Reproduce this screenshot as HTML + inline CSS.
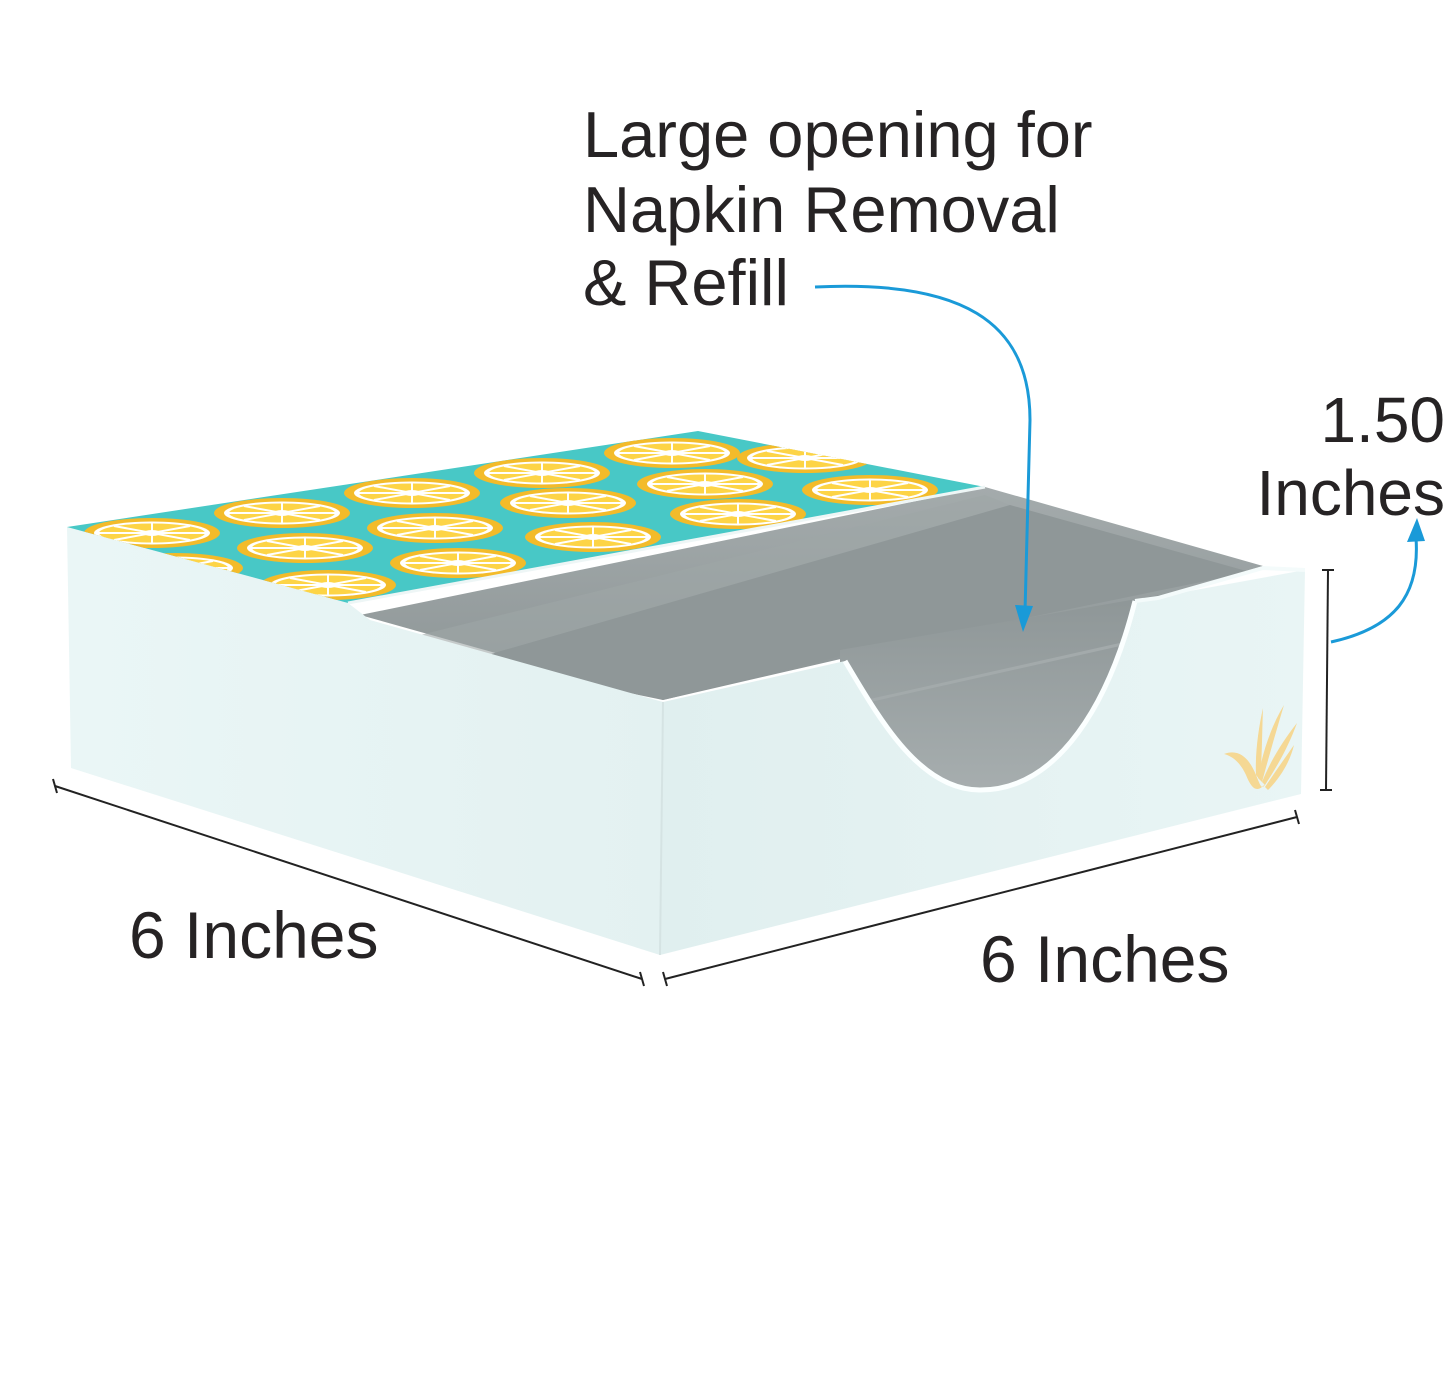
<!DOCTYPE html>
<html><head><meta charset="utf-8"><style>
html,body{margin:0;padding:0;background:#fff;}
svg{display:block}
text{font-family:"Liberation Sans",Arial,sans-serif;fill:#262324}
</style></head><body>
<svg width="1445" height="1377" viewBox="0 0 1445 1377" xmlns="http://www.w3.org/2000/svg">
<defs>
<clipPath id="lid"><polygon points="67,527 698,431 985,487 348,603"/></clipPath>
<g id="lemon">
<ellipse rx="68" ry="15" fill="#f3bb2a"/>
<ellipse rx="58" ry="11.5" fill="#fff"/>
<ellipse rx="53" ry="9.5" fill="#fdd446"/>
<g stroke="#fff" stroke-width="2">
<line x1="-53" y1="0" x2="53" y2="0"/><line x1="-38" y1="-7" x2="38" y2="7"/><line x1="-38" y1="7" x2="38" y2="-7"/><line x1="0" y1="-9.5" x2="0" y2="9.5"/>
</g>
<ellipse rx="9" ry="3" fill="#fff"/>
</g>
<linearGradient id="lf" x1="0" y1="0" x2="1" y2="0"><stop offset="0" stop-color="#eaf6f6"/><stop offset="1" stop-color="#e3f1f1"/></linearGradient>
<linearGradient id="rf" x1="0" y1="0" x2="1" y2="0"><stop offset="0" stop-color="#e0efef"/><stop offset="1" stop-color="#e9f5f5"/></linearGradient>
<linearGradient id="gi" x1="0" y1="0" x2="0" y2="1"><stop offset="0" stop-color="#a4abac"/><stop offset="1" stop-color="#8c9495"/></linearGradient>
<linearGradient id="gc" x1="0" y1="0" x2="0" y2="1"><stop offset="0" stop-color="#8e9697"/><stop offset="1" stop-color="#a9b0b1"/></linearGradient>
</defs>

<!-- text -->
<text x="583" y="157" font-size="65">Large opening for</text>
<text x="583" y="232" font-size="65">Napkin Removal</text>
<text x="583" y="305" font-size="65">&amp; Refill</text>
<text x="1445" y="442" font-size="64" text-anchor="end">1.50</text>
<text x="1445" y="515" font-size="64" text-anchor="end">Inches</text>
<text x="129" y="958" font-size="66">6 Inches</text>
<text x="980" y="982" font-size="66">6 Inches</text>

<!-- interior -->
<polygon points="360,615 985,487 1263,566 1150,600 845,658 663,700" fill="url(#gi)"/>
<polygon points="400,640 985,495 1010,505 470,660" fill="#9fa6a7" opacity="0.6"/>
<polygon points="470,660 1010,505 1250,572 845,655 663,700" fill="#8f9798"/>
<polygon points="840,650 1160,595 1160,810 840,810" fill="url(#gc)"/>
<line x1="850" y1="705" x2="1140" y2="640" stroke="#a3aaab" stroke-width="3"/>
<!-- left face -->
<polygon points="67,527 348,603 370,620 663,702 660,955 71,768" fill="url(#lf)"/>
<!-- right face with cutout -->
<path d="M663,702 L845,661 C880,720 920,790 980,790 C1060,790 1110,700 1135,601 L1305,570 L1301,794 L660,955 Z" fill="url(#rf)"/>
<path d="M845,661 C880,720 920,790 980,790 C1060,790 1110,700 1135,601" fill="none" stroke="#fbffff" stroke-width="5"/>
<polyline points="1135,601 1158,598 1263,568 1305,570" fill="none" stroke="#f4fbfb" stroke-width="4"/>
<line x1="663" y1="702" x2="660" y2="955" stroke="#d5e3e3" stroke-width="2"/>
<!-- lid -->
<polygon points="67,527 698,431 985,487 348,603" fill="#48c8c6"/>
<g clip-path="url(#lid)">
<use href="#lemon" x="152" y="533"/><use href="#lemon" x="282" y="513"/><use href="#lemon" x="412" y="493"/><use href="#lemon" x="542" y="473"/><use href="#lemon" x="672" y="453"/><use href="#lemon" x="805" y="458"/>
<use href="#lemon" x="175" y="568"/><use href="#lemon" x="305" y="548"/><use href="#lemon" x="435" y="528"/><use href="#lemon" x="568" y="503"/><use href="#lemon" x="705" y="484"/><use href="#lemon" x="870" y="490"/>
<use href="#lemon" x="198" y="603"/><use href="#lemon" x="328" y="585"/><use href="#lemon" x="458" y="563"/><use href="#lemon" x="593" y="537"/><use href="#lemon" x="738" y="514"/>
</g>
<line x1="348" y1="603" x2="985" y2="487" stroke="#eef6f6" stroke-width="3"/>

<!-- logo -->
<g fill="#f7d58a" opacity="0.9">
<path d="M1224,754 C1240,748 1250,760 1256,775 C1262,790 1262,790 1268,780 C1258,795 1252,790 1246,775 C1240,762 1232,756 1224,754Z"/>
<path d="M1256,775 C1255,755 1258,730 1263,708 C1262,735 1262,760 1260,780Z"/>
<path d="M1258,778 C1262,755 1270,728 1284,705 C1275,735 1268,760 1262,782Z"/>
<path d="M1262,782 C1270,762 1282,742 1297,723 C1288,748 1276,768 1265,785Z"/>
<path d="M1265,787 C1275,772 1285,758 1294,745 C1290,762 1280,778 1268,790Z"/>
</g>

<!-- dimension lines -->
<g stroke="#222" stroke-width="2" fill="none">
<line x1="55" y1="786" x2="642" y2="979"/><line x1="53" y1="779" x2="57" y2="793"/><line x1="640" y1="972" x2="644" y2="986"/>
<line x1="665" y1="979" x2="1297" y2="817"/><line x1="663" y1="972" x2="667" y2="986"/><line x1="1295" y1="810" x2="1299" y2="824"/>
<line x1="1328" y1="570" x2="1326" y2="790"/><line x1="1322" y1="570" x2="1334" y2="570"/><line x1="1320" y1="790" x2="1332" y2="790"/>
</g>

<!-- blue arrows -->
<g stroke="#1a9ad8" stroke-width="3" fill="none">
<path d="M815,287 C960,280 1030,320 1030,420 L1025,612"/>
<path d="M1331,642 C1395,628 1420,595 1416,538"/>
</g>
<polygon points="1015,605 1033,606 1023,632" fill="#1a9ad8"/>
<polygon points="1407,542 1425,541 1417,518" fill="#1a9ad8"/>
</svg>
</body></html>
